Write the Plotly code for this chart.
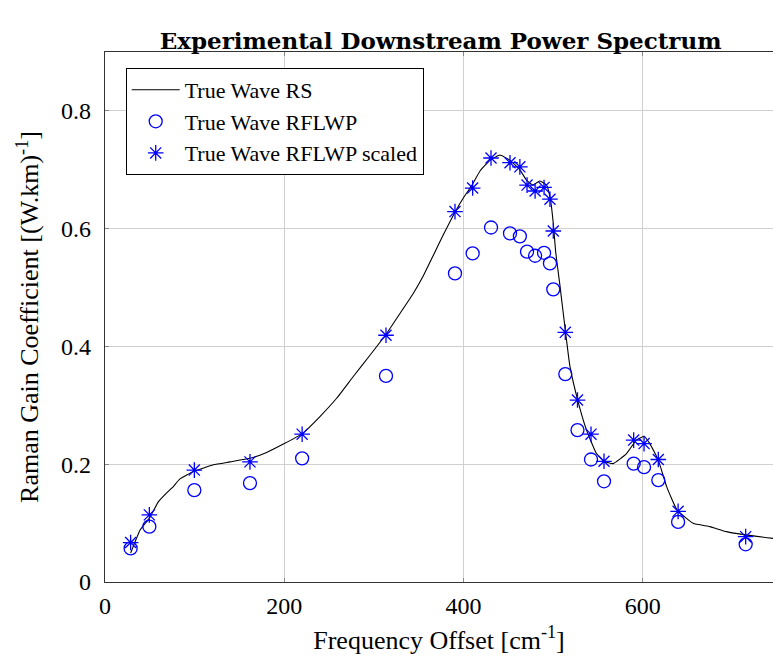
import plotly.graph_objects as go

# True Wave RS (continuous curve)
rs_x = [28.6, 34, 39, 44, 49.5, 59.5, 68, 76.2, 83.7, 99.3, 120.9, 139.5, 161.8, 180.4,
        200.1, 220.2, 239.9, 258.5, 277.1, 295.7, 314.3, 329.2, 344, 355.3, 366.5, 377.7,
        390.6, 399.9, 410, 418.5, 429.7, 440.7, 452, 463, 470.6, 477.5, 485.3, 492.8, 497,
        500.3, 503, 507.6, 514, 518.9, 527.5, 537.4, 548.5, 557, 567, 582, 593, 601.6, 608,
        617.5, 626.8, 638.6, 656.4, 675, 693.6, 715, 746]
rs_y = [0.049, 0.070, 0.088, 0.098, 0.108, 0.136, 0.150, 0.162, 0.175, 0.188, 0.199, 0.204,
        0.210, 0.220, 0.235, 0.252, 0.281, 0.312, 0.349, 0.385, 0.422, 0.456, 0.490, 0.520,
        0.555, 0.590, 0.628, 0.652, 0.675, 0.698, 0.716, 0.725, 0.716, 0.700, 0.682, 0.674,
        0.681, 0.674, 0.651, 0.609, 0.560, 0.505, 0.424, 0.366, 0.309, 0.258, 0.218, 0.205,
        0.201, 0.218, 0.241, 0.247, 0.235, 0.207, 0.162, 0.122, 0.0996, 0.094, 0.0855, 0.080,
        0.074]

# Measured points
pts_x = [28.6, 49.5, 99.7, 161.8, 220, 313.6, 390.6, 410.3, 430.8, 452, 463, 471, 480, 490,
         496.6, 500.3, 513.7, 527.3, 542.4, 556.9, 590, 601.6, 617.5, 639.6, 715]
rflwp_y = [0.057, 0.094, 0.156, 0.168, 0.210, 0.350, 0.524, 0.558, 0.602, 0.592, 0.587,
           0.561, 0.554, 0.559, 0.541, 0.497, 0.353, 0.258, 0.208, 0.171, 0.201, 0.195,
           0.173, 0.102, 0.064]
scaled_y = [0.067, 0.114, 0.190, 0.204, 0.251, 0.419, 0.629, 0.669, 0.720, 0.712, 0.705,
            0.674, 0.664, 0.670, 0.650, 0.596, 0.424, 0.309, 0.251, 0.205, 0.241, 0.235,
            0.208, 0.120, 0.077]

x_ticks = [0, 200, 400, 600]
y_ticks = [0, 0.2, 0.4, 0.6, 0.8]
y_tick_text = ["0", "0.2", "0.4", "0.6", "0.8"]

FONT = "Liberation Serif"
BLUE = "#0000ff"

fig = go.Figure()
fig.add_trace(go.Scatter(x=rs_x, y=rs_y, mode="lines", name="True Wave RS",
                         line=dict(color="black", width=1.1, shape="spline", smoothing=0.4)))
fig.add_trace(go.Scatter(x=pts_x, y=rflwp_y, mode="markers", name="True Wave RFLWP",
                         marker=dict(symbol="circle-open", size=13, color=BLUE,
                                     line=dict(color=BLUE, width=1.3))))
fig.add_trace(go.Scatter(x=pts_x, y=scaled_y, mode="markers", name="True Wave RFLWP scaled",
                         marker=dict(symbol="asterisk-open", size=13, color=BLUE,
                                     line=dict(color=BLUE, width=1.3))))

fig.update_layout(
    width=773, height=664,
    margin=dict(l=105, r=0, t=52, b=82),
    paper_bgcolor="white", plot_bgcolor="white",
    font=dict(family=FONT, size=24, color="black"),
    title=dict(text="<b>Experimental Downstream Power Spectrum</b>", x=0.57, xanchor="center",
               y=1 - 41 / 664, yanchor="middle", font=dict(family="DejaVu Serif", size=23)),
    legend=dict(x=0.031, y=0.970, xanchor="left", yanchor="top",
                bgcolor="white", bordercolor="black", borderwidth=1,
                font=dict(family=FONT, size=22), tracegroupgap=0, itemwidth=48),
    showlegend=True,
)
fig.update_xaxes(range=[0, 745.5], tickvals=x_ticks, showgrid=True, gridcolor="#d0d0d0",
                 gridwidth=1, showline=True, linecolor="#333333", linewidth=1.2, mirror="ticks",
                 ticks="inside", ticklen=4, tickcolor="#888888", zeroline=False,
                 title=dict(text="Frequency Offset [cm<sup>-1</sup>]", standoff=12,
                            font=dict(size=26)),
                 tickfont=dict(size=24), ticklabelstandoff=2)
fig.update_yaxes(range=[0, 0.9], tickvals=y_ticks, ticktext=y_tick_text, showgrid=True,
                 gridcolor="#d0d0d0", gridwidth=1, showline=True, linecolor="#333333",
                 linewidth=1.2, mirror=False, ticks="inside", ticklen=4, tickcolor="#888888",
                 zeroline=False, ticklabelstandoff=8,
                 title=dict(text="Raman Gain Coefficient [(W.km)<sup>-1</sup>]", standoff=14,
                            font=dict(size=26)),
                 tickfont=dict(size=24))

fig.write_html("out.html")
